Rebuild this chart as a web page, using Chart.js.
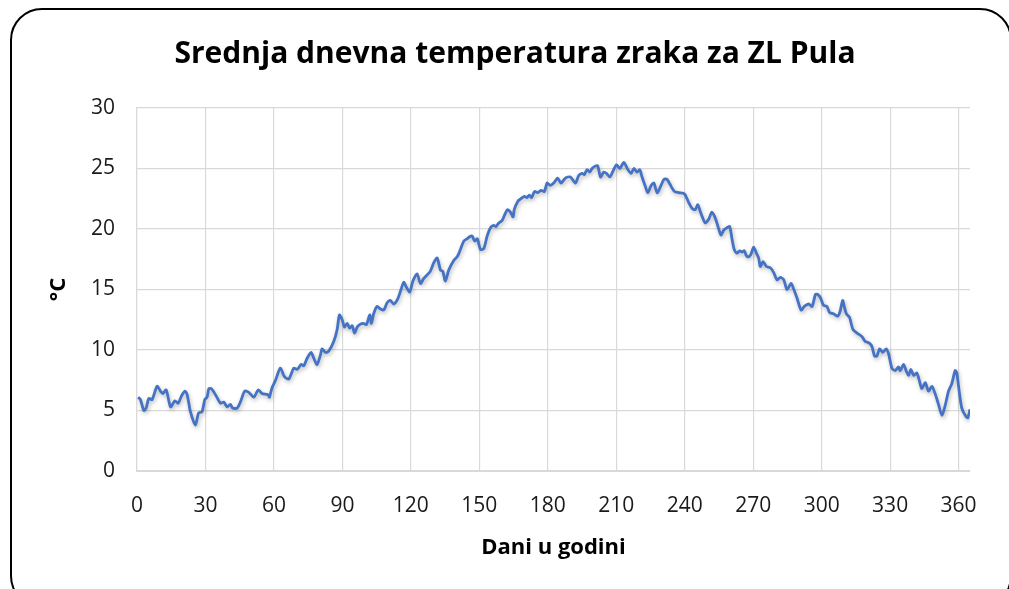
<!DOCTYPE html>
<html>
<head>
<meta charset="utf-8">
<script src="https://cdn.jsdelivr.net/npm/chart.js@4.4.1/dist/chart.umd.min.js"></script>
<style>
  html, body { margin: 0; padding: 0; background: #fff; overflow: hidden; }
  #okvir { position: absolute; left: 10px; top: 8px; width: 1002px; height: 600px; border: 2px solid #000; border-radius: 32px; box-sizing: border-box; }
  #graf { position: absolute; left: 0; top: 0; }
</style>
</head>
<body>
<div id="okvir"></div>
<canvas id="graf" width="1009" height="589"></canvas>
<script>
const naslov = 'Srednja dnevna temperatura zraka za ZL Pula';
const naslovX = 'Dani u godini';
const naslovY = '°C';

// dan u godini (procitano s grafa)
const dani = [
  0.5, 1.5, 3, 4, 5.2, 6.6, 8.8, 10.3, 11.3, 12.8, 14.7, 16.6, 18, 19.5, 21, 22, 23.4, 25.6, 27, 28.5,
  29.7, 30.7, 31.5, 32.6, 34.4, 36.6, 38, 39.5, 40.9, 41.9, 43.9, 45.3, 47.2, 49, 51.2, 53.1, 54.8, 57.4, 58, 59.2,
  60.7, 62.8, 64.6, 66.5, 68.7, 70.2, 71.9, 73.1, 74.5, 76.3, 77.5, 78.9, 80.4, 81.1, 82.6, 84, 86.2, 87.7, 88.7, 89.9,
  90.9, 92.1, 93.2, 94.3, 95.3, 96.5, 97.6, 99.1, 100.5, 102, 102.7, 103.7, 105.2, 106.6, 108.1, 109.6, 111, 112.5, 114.2, 115.7,
  116.9, 118, 119.5, 120.9, 122.7, 124.2, 125.6, 127.1, 128.5, 130, 131.5, 133, 134, 135.1, 136.6, 138.8, 140.3, 141.3, 143.2, 144.7,
  146.1, 146.9, 148, 149.1, 150.5, 152, 153.4, 154.9, 156.3, 157.3, 158.5, 160, 161.4, 162.4, 163.6, 164.8, 165.3, 166.9, 168.2, 169.7,
  170.8, 171.9, 172.9, 174.2, 175.6, 177, 178.5, 179.7, 181.1, 182.6, 184.3, 185.8, 187.7, 189.9, 192.1, 193.5, 195, 196, 197.2, 198.4,
  199.4, 200.9, 201.9, 203.1, 204.5, 205.7, 207.2, 208.6, 210.1, 211.6, 213.3, 215.1, 216.5, 217.7, 219.1, 220.3, 221.3, 222.8, 223.8, 225.3,
  226.5, 227.9, 229.4, 230.9, 232.3, 234.1, 235.5, 237.4, 239.9, 241.7, 243.2, 244.6, 245.7, 247.1, 249, 250.5, 251.9, 253.4, 254.9, 255.9,
  257.1, 258.5, 259.7, 260.7, 261.7, 262.9, 264.1, 265.1, 266.1, 267, 268, 269, 270.2, 271.4, 272.4, 273.1, 274.3, 275.8, 277.5, 279,
  280.4, 281.9, 283.4, 284.8, 286.6, 287.8, 289.2, 291, 292.4, 294.3, 295.8, 297.3, 298.3, 299.5, 300.8, 302.3, 303.5, 305.2, 307, 308.1,
  309.2, 309.9, 310.8, 312.2, 313.7, 315.5, 317.7, 319.1, 320.6, 322, 323.2, 324.2, 325.4, 326.8, 328.3, 329.3, 330.8, 332.2, 333.7, 334.4,
  335.9, 337, 338.1, 339.1, 340.3, 341.7, 342.9, 343.9, 345.4, 346.8, 348.3, 349.7, 351.2, 352.7, 354.1, 355.6, 357, 358.5, 359.2, 360.4,
  361.4, 362.9, 364, 365
];

// srednja dnevna temperatura (°C)
const temperature = [
  6.1, 5.9, 5.0, 5.2, 6.0, 5.9, 7.0, 6.6, 6.4, 6.7, 5.3, 5.8, 5.6, 6.2, 6.6, 6.3, 4.9, 3.8, 4.8, 4.9,
  5.9, 6.1, 6.8, 6.8, 6.3, 5.6, 5.7, 5.3, 5.5, 5.2, 5.2, 5.7, 6.6, 6.5, 6.1, 6.7, 6.4, 6.3, 6.1, 6.9,
  7.5, 8.5, 7.8, 7.6, 8.5, 8.4, 8.8, 8.7, 9.3, 9.8, 9.3, 8.8, 9.6, 10.1, 9.8, 9.9, 10.7, 11.7, 12.9, 12.5,
  11.9, 12.2, 11.8, 12.0, 11.4, 11.9, 12.1, 12.2, 12.1, 12.9, 12.2, 13.0, 13.6, 13.4, 13.3, 13.9, 14.1, 13.8, 14.2, 15.0,
  15.6, 15.2, 14.8, 15.7, 16.3, 15.5, 15.9, 16.2, 16.5, 17.2, 17.6, 16.6, 16.5, 15.7, 16.6, 17.4, 17.7, 18.1, 19.0, 19.2,
  19.4, 19.4, 19.0, 19.2, 18.3, 18.4, 19.4, 20.1, 20.3, 20.2, 20.5, 20.7, 21.3, 21.6, 21.4, 21.0, 21.6, 22.3, 22.5, 22.7,
  22.6, 22.8, 22.6, 23.1, 23.0, 23.2, 23.1, 23.8, 23.6, 23.8, 24.2, 23.8, 24.2, 24.3, 23.8, 24.4, 24.6, 24.5, 24.9, 24.7,
  25.0, 25.2, 25.2, 24.3, 24.7, 24.6, 24.3, 24.8, 25.3, 25.0, 25.5, 24.9, 24.6, 25.0, 24.7, 24.9, 24.3, 23.5, 23.0, 23.6,
  23.8, 23.0, 23.5, 24.1, 24.1, 23.5, 23.1, 23.0, 22.9, 22.2, 21.7, 21.6, 22.0, 21.3, 20.5, 20.8, 21.4, 20.9, 20.0, 19.5,
  19.9, 20.1, 20.2, 19.2, 18.3, 18.0, 18.2, 18.1, 18.2, 17.8, 17.7, 17.9, 18.5, 18.0, 17.6, 16.9, 17.3, 16.9, 16.8, 16.4,
  15.8, 16.0, 15.8, 15.0, 15.5, 15.0, 14.3, 13.3, 13.6, 13.8, 13.6, 14.6, 14.6, 14.3, 13.7, 13.6, 13.1, 13.0, 12.8, 13.2,
  14.1, 13.6, 13.0, 12.7, 11.7, 11.4, 11.1, 10.7, 10.6, 10.3, 9.5, 9.5, 10.1, 9.8, 10.1, 9.7, 8.5, 8.3, 8.6, 8.3,
  8.8, 8.3, 7.9, 8.4, 7.9, 8.1, 7.4, 6.8, 7.3, 6.6, 7.0, 6.4, 5.5, 4.6, 5.4, 6.6, 7.2, 8.3, 8.1, 6.4,
  5.2, 4.6, 4.4, 5.1
];

const korakDana = 30;
const maxDan = 365;
const korakTemp = 5;
const maxTemp = 30;

Chart.defaults.font.family = '"Open Sans", sans-serif';
Chart.defaults.color = '#1a1a1a';

// naslov grafa
const naslovPlugin = {
  id: 'naslov',
  afterDraw(chart) {
    const ctx = chart.ctx;
    ctx.save();
    ctx.font = 'bold 30px "Open Sans"';
    ctx.fillStyle = '#000';
    ctx.textAlign = 'center';
    ctx.textBaseline = 'middle';
    ctx.fillText(naslov, 515, 54);
    ctx.restore();
  }
};

// lagana sjena ispod linije
const sjenaPlugin = {
  id: 'sjena',
  beforeDatasetsDraw(chart) {
    const ctx = chart.ctx;
    ctx.save();
    ctx.shadowColor = 'rgba(0,0,0,0.28)';
    ctx.shadowBlur = 4;
    ctx.shadowOffsetX = 1;
    ctx.shadowOffsetY = 2;
  },
  afterDatasetsDraw(chart) {
    chart.ctx.restore();
  }
};

const ctx = document.getElementById('graf').getContext('2d');
new Chart(ctx, {
  type: 'line',
  data: {
    datasets: [{
      data: dani.map((d, i) => ({ x: d, y: temperature[i] })),
      borderColor: '#4472C4',
      borderWidth: 2.8,
      pointRadius: 0,
      tension: 0.25,
      fill: false
    }]
  },
  options: {
    responsive: false,
    animation: false,
    events: [],
    layout: { padding: { left: 40, right: 39, top: 108, bottom: 0 } },
    plugins: {
      legend: { display: false },
      tooltip: { enabled: false }
    },
    scales: {
      x: {
        type: 'linear',
        min: 0,
        max: maxDan,
        afterFit: s => { s.height = 118; },
        ticks: { stepSize: korakDana, includeBounds: false, padding: 22, font: { size: 21 }, maxRotation: 0 },
        grid: { color: '#d9d9d9', lineWidth: 1.2, drawTicks: false },
        border: { color: '#d9d9d9', width: 2 },
        title: { display: true, text: naslovX, font: { size: 22, weight: 'bold' }, color: '#000', padding: { bottom: 28, top: 0 } }
      },
      y: {
        min: 0,
        max: maxTemp,
        afterFit: s => { s.width = 97; },
        ticks: { stepSize: korakTemp, padding: 22, font: { size: 21 } },
        grid: { color: '#d9d9d9', lineWidth: 1.2, drawTicks: false },
        border: { color: '#d9d9d9', width: 1.2 },
        title: { display: true, text: naslovY, font: { size: 22, weight: 'bold' }, color: '#000', padding: { top: 6, bottom: 0 } }
      }
    }
  },
  plugins: [naslovPlugin, sjenaPlugin]
});
</script>
</body>
</html>
